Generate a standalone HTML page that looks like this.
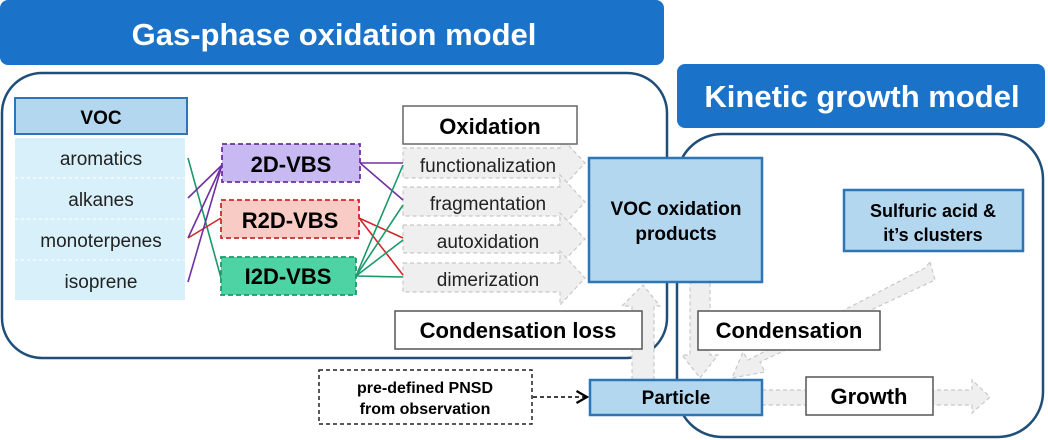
<!DOCTYPE html>
<html><head><meta charset="utf-8"><style>
html,body{margin:0;padding:0;background:#fff;}
svg{display:block;}
text{font-family:"Liberation Sans",Arial,sans-serif;}
</style></head><body>
<svg width="1048" height="440" viewBox="0 0 1048 440" xmlns="http://www.w3.org/2000/svg">
<defs>
<marker id="ah" markerWidth="10" markerHeight="10" refX="8" refY="5" orient="auto"><path d="M1,1 L8,5 L1,9" fill="none" stroke="#000" stroke-width="1.5"/></marker>
</defs>
<!-- banners -->
<rect x="0" y="0" width="664" height="65" rx="8" fill="#1a73c8"/>
<text x="334" y="45" font-size="31" font-weight="bold" fill="#fff" text-anchor="middle">Gas-phase oxidation model</text>
<rect x="677" y="64" width="368" height="64" rx="8" fill="#1a73c8"/>
<text x="862" y="107" font-size="31" font-weight="bold" fill="#fff" text-anchor="middle">Kinetic growth model</text>
<!-- panels -->
<rect x="2" y="73" width="665" height="285" rx="40" fill="none" stroke="#1f4e79" stroke-width="2.5"/>
<rect x="677" y="134" width="366" height="303" rx="45" fill="none" stroke="#1f4e79" stroke-width="2.5"/>

<!-- gray arrows -->
<g fill="#efefef" stroke="#c8c8c8" stroke-width="1.2" stroke-dasharray="4,3">
<path d="M403,148 L560,148 L560,136 L585,163 L560,190 L560,178 L403,178 Z"/>
<path d="M403,187 L560,187 L560,175 L585,202 L560,229 L560,216 L403,216 Z"/>
<path d="M403,225 L560,225 L560,213 L585,239 L560,265 L560,253 L403,253 Z"/>
<path d="M403,263 L560,263 L560,251 L585,278 L560,305 L560,292 L403,292 Z"/>
<path d="M632,380 L632,306 L622,306 L643,285 L660,306 L654,306 L654,380 Z"/>
<path d="M690,282 L710,282 L710,355 L718,355 L700,378 L682,355 L690,355 Z"/>
<path d="M930,262 L935,280 L760,362 L765,372 L732,378 L743,352 L748,360 L925,268 Z"/>
<path d="M762,390 L972,390 L972,380 L990,397 L972,413 L972,405 L762,405 Z"/>
</g>

<!-- VOC -->
<rect x="15" y="98" width="172" height="36" fill="#b4d7f0" stroke="#2e75b6" stroke-width="2"/>
<text x="101" y="124" font-size="19" font-weight="bold" text-anchor="middle">VOC</text>
<rect x="15" y="138" width="170" height="162" fill="#d8f0fa"/>
<g stroke="#fff" stroke-dasharray="3,3"><line x1="15" y1="178" x2="185" y2="178"/><line x1="15" y1="219" x2="185" y2="219"/><line x1="15" y1="260" x2="185" y2="260"/></g>
<g font-size="19" text-anchor="middle" fill="#222">
<text x="101" y="165">aromatics</text>
<text x="101" y="206">alkanes</text>
<text x="101" y="247">monoterpenes</text>
<text x="101" y="288">isoprene</text>
</g>

<!-- connectors -->
<g stroke-width="1.6" fill="none">
<line x1="188" y1="158" x2="221" y2="278" stroke="#1a9a6a"/>
<line x1="188" y1="198" x2="222" y2="165" stroke="#7030a0"/>
<line x1="188" y1="238" x2="222" y2="165" stroke="#7030a0"/>
<line x1="188" y1="238" x2="221" y2="218" stroke="#d02828"/>
<line x1="188" y1="282" x2="222" y2="165" stroke="#7030a0"/>
<line x1="360" y1="163" x2="403" y2="163" stroke="#7030a0"/>
<line x1="360" y1="163" x2="403" y2="200" stroke="#7030a0"/>
<line x1="359" y1="218" x2="403" y2="238" stroke="#d02828"/>
<line x1="359" y1="218" x2="403" y2="275" stroke="#d02828"/>
<line x1="356" y1="276" x2="403" y2="165" stroke="#1a9a6a"/>
<line x1="356" y1="276" x2="403" y2="205" stroke="#1a9a6a"/>
<line x1="356" y1="276" x2="403" y2="240" stroke="#1a9a6a"/>
<line x1="356" y1="276" x2="403" y2="277" stroke="#1a9a6a"/>
</g>

<!-- VBS boxes -->
<rect x="222" y="144" width="138" height="38" fill="#c9b9f2" stroke="#7030a0" stroke-width="1.8" stroke-dasharray="5,3"/>
<text x="291" y="172" font-size="22" font-weight="bold" text-anchor="middle">2D-VBS</text>
<rect x="221" y="200" width="138" height="38" fill="#f8ccc4" stroke="#d02828" stroke-width="1.8" stroke-dasharray="5,3"/>
<text x="290" y="228" font-size="22" font-weight="bold" text-anchor="middle">R2D-VBS</text>
<rect x="221" y="257" width="135" height="38" fill="#4ed4a4" stroke="#1a9a6a" stroke-width="1.8" stroke-dasharray="5,3"/>
<text x="288" y="284" font-size="22" font-weight="bold" text-anchor="middle">I2D-VBS</text>

<!-- oxidation -->
<rect x="403" y="106" width="174" height="38" fill="#fff" stroke="#666" stroke-width="1.5"/>
<text x="490" y="134" font-size="22" font-weight="bold" text-anchor="middle">Oxidation</text>
<g font-size="19" text-anchor="middle" fill="#222">
<text x="488" y="172">functionalization</text>
<text x="488" y="210">fragmentation</text>
<text x="488" y="248">autoxidation</text>
<text x="488" y="286">dimerization</text>
</g>

<rect x="395" y="311" width="247" height="38" fill="#fff" stroke="#555" stroke-width="1.5"/>
<text x="518" y="338" font-size="22" font-weight="bold" text-anchor="middle">Condensation loss</text>

<rect x="589" y="158" width="173" height="124" fill="#b4d7f0" stroke="#2e75b6" stroke-width="2.5"/>
<text x="676" y="215" font-size="19" font-weight="bold" text-anchor="middle">VOC oxidation</text>
<text x="676" y="240" font-size="19" font-weight="bold" text-anchor="middle">products</text>

<rect x="844" y="190" width="179" height="61" fill="#b4d7f0" stroke="#2e75b6" stroke-width="2.5"/>
<text x="933" y="217" font-size="18" font-weight="bold" text-anchor="middle">Sulfuric acid &amp;</text>
<text x="933" y="241" font-size="18" font-weight="bold" text-anchor="middle">it’s clusters</text>

<rect x="698" y="311" width="182" height="39" fill="#fff" stroke="#555" stroke-width="1.5"/>
<text x="789" y="338" font-size="22" font-weight="bold" text-anchor="middle">Condensation</text>

<rect x="590" y="380" width="172" height="35" fill="#b4d7f0" stroke="#2e75b6" stroke-width="2.5"/>
<text x="676" y="404" font-size="19" font-weight="bold" text-anchor="middle">Particle</text>

<rect x="806" y="377" width="127" height="38" fill="#fff" stroke="#555" stroke-width="1.5"/>
<text x="869" y="404" font-size="22" font-weight="bold" text-anchor="middle">Growth</text>

<rect x="319" y="370" width="213" height="54" fill="#fff" stroke="#222" stroke-width="1.5" stroke-dasharray="4,3"/>
<text x="425" y="393" font-size="16" font-weight="bold" text-anchor="middle">pre-defined PNSD</text>
<text x="425" y="414" font-size="16" font-weight="bold" text-anchor="middle">from observation</text>
<line x1="533" y1="397" x2="587" y2="397" stroke="#000" stroke-width="1.5" stroke-dasharray="4,3" marker-end="url(#ah)"/>
</svg>
</body></html>
